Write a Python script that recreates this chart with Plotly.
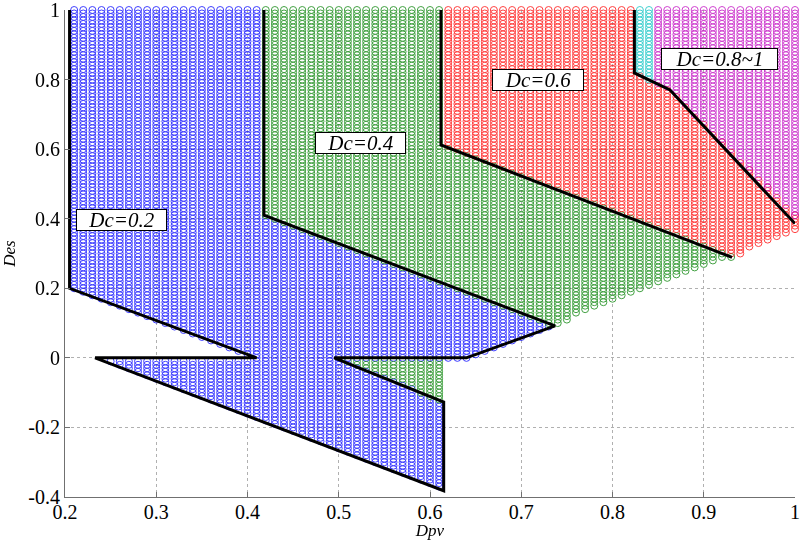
import numpy as np
import plotly.graph_objects as go

# ---- sampling grid of the (Dpv, Des) plane ----
DPV_MIN, DPV_MAX, DPV_STEP = 0.21, 1.00, 0.01
DES_MIN, DES_MAX, DES_STEP = -0.40, 1.00, 0.01

# ---- boundary polylines between Dc regions ----
# Dc=0.2 | Dc=0.4
B1_X = [0.205, 0.205, 0.41, 0.233, 0.615, 0.615, 0.495, 0.64, 0.737, 0.418, 0.418]
B1_Y = [1.00, 0.20, 0.00, 0.00, -0.382, -0.127, 0.00, 0.00, 0.092, 0.41, 1.00]
# Dc=0.4 | Dc=0.6
B2_X = [0.612, 0.612, 0.931]
B2_Y = [1.00, 0.612, 0.289]
# Dc=0.6 | Dc=0.8~1
B3_X = [0.824, 0.824, 0.863, 1.00]
B3_Y = [1.00, 0.819, 0.77, 0.386]

# lower edge of the feasible set on the right-hand side
LOW_X = [0.737, 0.80, 0.92, 0.931, 0.97, 1.00]
LOW_Y = [0.092, 0.17, 0.285, 0.289, 0.335, 0.38]

# split between Dc=0.8 and Dc=1 inside the top-right region
SPLIT_08_1 = 0.845

# region labels
LABELS = ["Dc=0.2", "Dc=0.4", "Dc=0.6", "Dc=0.8~1"]
LABEL_X = [0.262, 0.524, 0.718, 0.917]
LABEL_Y = [0.396, 0.617, 0.799, 0.859]
LABEL_W = [89, 89, 90, 115]

X_TICKS = [0.2, 0.3, 0.4, 0.5, 0.6, 0.7, 0.8, 0.9, 1.0]
Y_TICKS = [-0.4, -0.2, 0.0, 0.2, 0.4, 0.6, 0.8, 1.0]

COLORS = {
    "Dc=0.2": "#0000FF",
    "Dc=0.4": "#008000",
    "Dc=0.6": "#FF0000",
    "Dc=0.8": "#00BFBF",
    "Dc=1": "#BF00BF",
}


def inside(px, py, vx, vy):
    """Even-odd ray casting test of points against a closed polygon."""
    vx = np.asarray(vx, float)
    vy = np.asarray(vy, float)
    xb, yb = np.roll(vx, -1), np.roll(vy, -1)
    res = np.zeros(px.shape, bool)
    for xa, ya, x2, y2 in zip(vx, vy, xb, yb):
        if ya == y2:
            continue
        cross = (ya > py) != (y2 > py)
        xint = xa + (py - ya) * (x2 - xa) / (y2 - ya)
        res ^= cross & (px < xint)
    return res


def lift_top(ys):
    # open the top edge slightly so the y=1 row falls inside
    return [y + 0.01 if y >= 1.0 else y for y in ys]


# grid points
gx, gy = np.meshgrid(
    np.round(np.arange(DPV_MIN, DPV_MAX + 1e-9, DPV_STEP), 3),
    np.round(np.arange(DES_MIN, DES_MAX + 1e-9, DES_STEP), 3),
)
gx, gy = gx.ravel(), gy.ravel()
tx, ty = gx + 1e-6, gy + 1e-6

y_split = float(np.interp(SPLIT_08_1, B3_X[1:], B3_Y[1:]))
low_mid = [(x, y) for x, y in zip(LOW_X, LOW_Y) if B1_X[8] < x < B2_X[2]]
low_right = [(x, y) for x, y in zip(LOW_X, LOW_Y) if x > B2_X[2]]

polys = {}
polys["Dc=0.2"] = [(B1_X, lift_top(B1_Y))]
gxp = [B1_X[9], B1_X[9], B1_X[8]] + [p[0] for p in low_mid] + [B2_X[2], B2_X[1], B2_X[0]]
gyp = [1.01, B1_Y[9], B1_Y[8]] + [p[1] for p in low_mid] + [B2_Y[2], B2_Y[1], 1.01]
notch_x = [B1_X[6], B1_X[5], B1_X[5]]
notch_y = [B1_Y[6], B1_Y[5], 0.0]
polys["Dc=0.4"] = [(gxp, gyp), (notch_x, notch_y)]
rxp = B2_X + [p[0] + (0.01 if p[0] >= 1.0 else 0) for p in low_right]
ryp = lift_top(B2_Y) + [p[1] for p in low_right]
rxp += [1.01] + B3_X[::-1][1:]
ryp += [B3_Y[-1]] + lift_top(B3_Y[::-1][1:])
polys["Dc=0.6"] = [(rxp, ryp)]
polys["Dc=0.8"] = [([B3_X[0], B3_X[1], SPLIT_08_1, SPLIT_08_1],
                    [1.01, B3_Y[1], y_split, 1.01])]
polys["Dc=1"] = [([SPLIT_08_1, SPLIT_08_1, B3_X[2], 1.01, 1.01],
                  [1.01, y_split, B3_Y[2], B3_Y[3] - 0.005, 1.01])]

fig = go.Figure()
for name, plist in polys.items():
    mask = np.zeros(gx.shape, bool)
    for vx, vy in plist:
        mask |= inside(tx, ty, vx, vy)
    fig.add_trace(go.Scatter(
        x=gx[mask], y=gy[mask], mode="markers", name=name,
        marker=dict(symbol="circle-open", size=7, color=COLORS[name],
                    line=dict(width=1, color=COLORS[name])),
        opacity=0.75, hoverinfo="skip", showlegend=False, cliponaxis=False,
    ))

for bx, by in [(B1_X, B1_Y), (B2_X, B2_Y), (B3_X, B3_Y)]:
    fig.add_trace(go.Scatter(x=bx, y=by, mode="lines",
                             line=dict(color="black", width=3),
                             hoverinfo="skip", showlegend=False))

for txt, lx, ly, w in zip(LABELS, LABEL_X, LABEL_Y, LABEL_W):
    fig.add_annotation(
        x=lx, y=ly, xref="x", yref="y", text=txt, showarrow=False,
        font=dict(family="Liberation Serif", size=21, color="black", style="italic"),
        bgcolor="white", bordercolor="black", borderwidth=1, borderpad=0,
        width=w, height=20,
    )

axis_common = dict(
    showgrid=True, gridcolor="#b0b0b0", griddash="dot", gridwidth=1,
    zeroline=False, showline=True, linecolor="#707070", linewidth=1,
    ticks="inside", ticklen=5, tickcolor="#707070",
    tickfont=dict(family="Liberation Serif", size=20, color="black"),
    mirror=False, automargin=False, ticklabeloverflow="allow",
)

fig.update_xaxes(range=[0.2, 1.0], tickvals=X_TICKS,
                 ticktext=[f"{v:g}" for v in X_TICKS],
                 ticklabelstandoff=-3,
                 title=dict(text="Dpv", standoff=2,
                            font=dict(family="Liberation Serif", size=17,
                                      style="italic", color="black")),
                 **axis_common)
fig.update_yaxes(range=[-0.4, 1.0], tickvals=Y_TICKS,
                 ticktext=[f"{v:g}" for v in Y_TICKS],
                 title=dict(text="Des", standoff=8,
                            font=dict(family="Liberation Serif", size=17,
                                      style="italic", color="black")),
                 **axis_common)

fig.update_layout(
    width=805, height=540,
    margin=dict(l=65, r=10, t=10, b=43),
    plot_bgcolor="white", paper_bgcolor="white",
)

fig.write_html("out.html")
